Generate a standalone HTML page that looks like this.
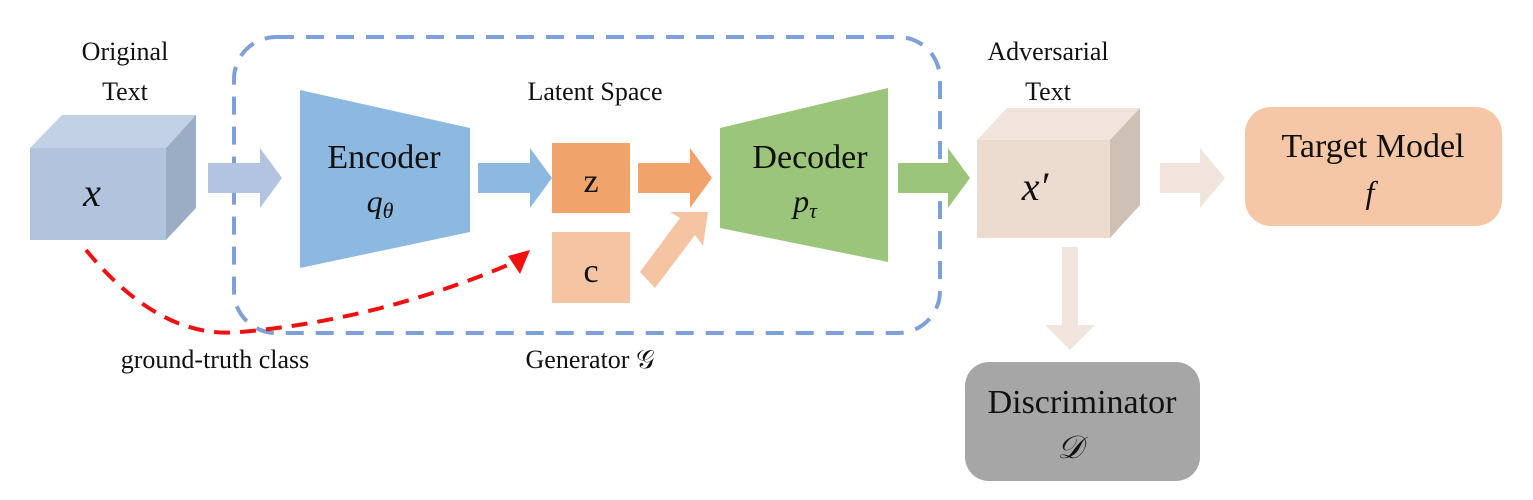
<!DOCTYPE html>
<html><head><style>
html,body{margin:0;padding:0;background:#fff;}
svg{display:block;}
text{font-family:"Liberation Serif",serif;fill:#111;}
</style></head><body>
<svg width="1533" height="500" viewBox="0 0 1533 500" xmlns="http://www.w3.org/2000/svg">
<!-- dashed generator box -->
<rect x="234" y="37" width="706" height="296" rx="42" fill="none" stroke="#7f9fd8" stroke-width="4" stroke-dasharray="18,12"/>
<!-- cube x -->
<polygon points="30,148 62,115 196,115 166,148" fill="#c3d1e6"/>
<polygon points="166,148 196,115 196,208 166,240" fill="#9badc5"/>
<rect x="30" y="148" width="136" height="92" fill="#b2c3de"/>
<text x="92" y="206" font-size="40" font-style="italic" text-anchor="middle">x</text>
<!-- arrow 1 -->
<polygon points="208,163 260,163 260,148 282,178 260,208 260,193 208,193" fill="#b2c4e0"/>
<!-- encoder -->
<polygon points="300,90 470,128 470,232 300,268" fill="#8db8e0"/>
<text x="384" y="168" font-size="34" text-anchor="middle">Encoder</text>
<text x="380" y="212" font-size="32" font-style="italic" text-anchor="middle">q<tspan font-size="22" dy="6">θ</tspan></text>
<!-- arrow 2 -->
<polygon points="478,163 530,163 530,148 552,178 530,208 530,193 478,193" fill="#8db8e0"/>
<!-- z, c -->
<rect x="552" y="143" width="78" height="70" fill="#f0a36b"/>
<text x="591" y="192" font-size="34" text-anchor="middle">z</text>
<rect x="552" y="232" width="78" height="71" fill="#f5c4a2"/>
<text x="591" y="282" font-size="34" text-anchor="middle">c</text>
<text x="595" y="100" font-size="26" text-anchor="middle">Latent Space</text>
<!-- orange arrow -->
<polygon points="638,163 690,163 690,148 712,178 690,208 690,193 638,193" fill="#f0a36b"/>
<!-- c diagonal arrow -->
<polygon points="640,272 680,218 670,212 708,212 703,246 695,235 655,288" fill="#f5c4a2"/>
<!-- decoder -->
<polygon points="720,128 888,88 888,262 720,228" fill="#9cc57c"/>
<text x="810" y="168" font-size="34" text-anchor="middle">Decoder</text>
<text x="805" y="212" font-size="32" font-style="italic" text-anchor="middle">p<tspan font-size="22" dy="6">τ</tspan></text>
<!-- green arrow -->
<polygon points="898,163 948,163 948,148 970,178 948,208 948,193 898,193" fill="#9cc57c"/>
<!-- cube x' -->
<polygon points="977,140 1007,108 1140,108 1110,140" fill="#f0e4dc"/>
<polygon points="1110,140 1140,108 1140,205 1110,238" fill="#cfc0b5"/>
<rect x="977" y="140" width="133" height="98" fill="#ecdccf"/>
<text x="1035" y="200" font-size="40" font-style="italic" text-anchor="middle">x′</text>
<text x="1048" y="60" font-size="26" text-anchor="middle">Adversarial</text>
<text x="1048" y="100" font-size="26" text-anchor="middle">Text</text>
<!-- arrow to target -->
<polygon points="1160,163 1200,163 1200,148 1225,178 1200,208 1200,193 1160,193" fill="#f0e4dc"/>
<rect x="1245" y="107" width="257" height="119" rx="26" fill="#f6c7a6"/>
<text x="1373" y="157" font-size="34" text-anchor="middle">Target Model</text>
<text x="1370" y="203" font-size="32" font-style="italic" text-anchor="middle">f</text>
<!-- down arrow -->
<polygon points="1062,247 1078,247 1078,325 1095,325 1070,350 1045,325 1062,325" fill="#f0e4dc"/>
<rect x="965" y="362" width="235" height="119" rx="24" fill="#a6a6a6"/>
<text x="1082" y="413" font-size="34" text-anchor="middle">Discriminator</text>
<text x="1070" y="458" font-size="32" font-style="italic" text-anchor="middle">𝒟</text>
<!-- left labels -->
<text x="125" y="60" font-size="26" text-anchor="middle">Original</text>
<text x="125" y="100" font-size="26" text-anchor="middle">Text</text>
<text x="215" y="368" font-size="26" text-anchor="middle">ground-truth class</text>
<text x="590" y="368" font-size="26" text-anchor="middle">Generator 𝒢</text>
<!-- red dashed curve -->
<path d="M86,250 Q160,340 240,332 Q380,320 515,262" fill="none" stroke="#f01010" stroke-width="4" stroke-dasharray="16,10"/>
<polygon points="530,250 508,256 520,274" fill="#f01010"/>
</svg>
</body></html>
